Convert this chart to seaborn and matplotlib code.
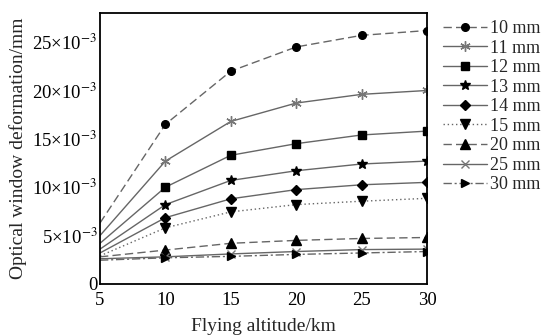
import numpy as np
import pandas as pd
import matplotlib
matplotlib.use("Agg")
import matplotlib.pyplot as plt
import seaborn as sns
from matplotlib.ticker import FixedLocator, FixedFormatter

altitude = [5, 10, 15, 20, 25, 30]
thickness_labels = ["10 mm", "11 mm", "12 mm", "13 mm", "14 mm", "15 mm", "20 mm", "25 mm", "30 mm"]
d10 = [6.3, 16.5, 22.0, 24.5, 25.7, 26.2]
d11 = [5.0, 12.7, 16.8, 18.7, 19.6, 20.0]
d12 = [4.2, 10.0, 13.3, 14.5, 15.4, 15.8]
d13 = [3.6, 8.2, 10.7, 11.7, 12.4, 12.7]
d14 = [3.2, 6.85, 8.8, 9.75, 10.25, 10.5]
d15 = [2.9, 5.8, 7.45, 8.2, 8.55, 8.85]
d20 = [2.8, 3.5, 4.2, 4.5, 4.7, 4.8]
d25 = [2.6, 2.8, 3.1, 3.35, 3.55, 3.6]
d30 = [2.45, 2.7, 2.85, 3.05, 3.2, 3.35]
series = [d10, d11, d12, d13, d14, d15, d20, d25, d30]
yticks = [0, 5, 10, 15, 20, 25]
ytick_labels = ["0", r"5×10$^{-3}$", r"10×10$^{-3}$", r"15×10$^{-3}$", r"20×10$^{-3}$", r"25×10$^{-3}$"]

rows = []
for lab, vals in zip(thickness_labels, series):
    for a, v in zip(altitude, vals):
        rows.append({"alt": a, "def": v, "t": lab})
df = pd.DataFrame(rows)

sns.set_style("white")
plt.rcParams["font.family"] = ["Liberation Serif", "DejaVu Serif"]
plt.rcParams["mathtext.fontset"] = "stix"

styles = {
    "10 mm": dict(marker="o", ls=(0, (6, 3)), mfc="black", mec="black"),
    "11 mm": dict(marker=(6, 2, 0), ls="-", mfc="#777777", mec="#777777"),
    "12 mm": dict(marker="s", ls="-", mfc="black", mec="black"),
    "13 mm": dict(marker="*", ls="-", mfc="black", mec="black"),
    "14 mm": dict(marker="D", ls="-", mfc="black", mec="black"),
    "15 mm": dict(marker="v", ls=(0, (1, 2)), mfc="black", mec="black"),
    "20 mm": dict(marker="^", ls=(0, (6, 3)), mfc="black", mec="black"),
    "25 mm": dict(marker="x", ls="-", mfc="#777777", mec="#777777"),
    "30 mm": dict(marker=">", ls=(0, (6, 2, 1.5, 2)), mfc="black", mec="black"),
}
msize = {"o": 5.5, "s": 5.5, "*": 7.5, "D": 5.0, "v": 6.5, "^": 6.5, ">": 6.0, "x": 5.5, (6, 2, 0): 7.5}

fig = plt.figure(figsize=(5.45, 3.36), dpi=100)
ax = fig.add_axes([0.1835, 0.155, 0.6, 0.806])

for lab in thickness_labels:
    st = styles[lab]
    sub = df[df["t"] == lab]
    sns.lineplot(data=sub, x="alt", y="def", ax=ax, color="#666666", lw=1.0,
                 linestyle=st["ls"], marker=st["marker"], markersize=msize[st["marker"]],
                 markerfacecolor=st["mfc"], markeredgecolor=st["mec"], markeredgewidth=1.0,
                 markevery=slice(1, None), label=lab, legend=False)

ax.set_xlim(5, 30)
ax.set_ylim(0, 28)
ax.set_xticks(altitude)
ax.xaxis.set_major_formatter(FixedFormatter([str(a) for a in altitude]))
ax.yaxis.set_major_locator(FixedLocator(yticks))
ax.yaxis.set_major_formatter(FixedFormatter(ytick_labels))
ax.tick_params(direction="in", length=4, width=1, labelsize=13.5, pad=2, colors="black")
ax.tick_params(axis="x", pad=6)
for s in ax.spines.values():
    s.set_linewidth(1.3)
    s.set_color("black")
ax.set_xlabel("Flying altitude/km", fontsize=14, labelpad=6)
ax.set_ylabel("Optical window deformation/mm", fontsize=14, labelpad=4)

h, l = ax.get_legend_handles_labels()
fig.legend(h, l, loc="upper left", bbox_to_anchor=(0.812, 0.94), frameon=False,
           fontsize=13, handlelength=2.45, handletextpad=0.2, labelspacing=0.14,
           borderaxespad=0, borderpad=0)

fig.savefig("out.png", dpi=100)
